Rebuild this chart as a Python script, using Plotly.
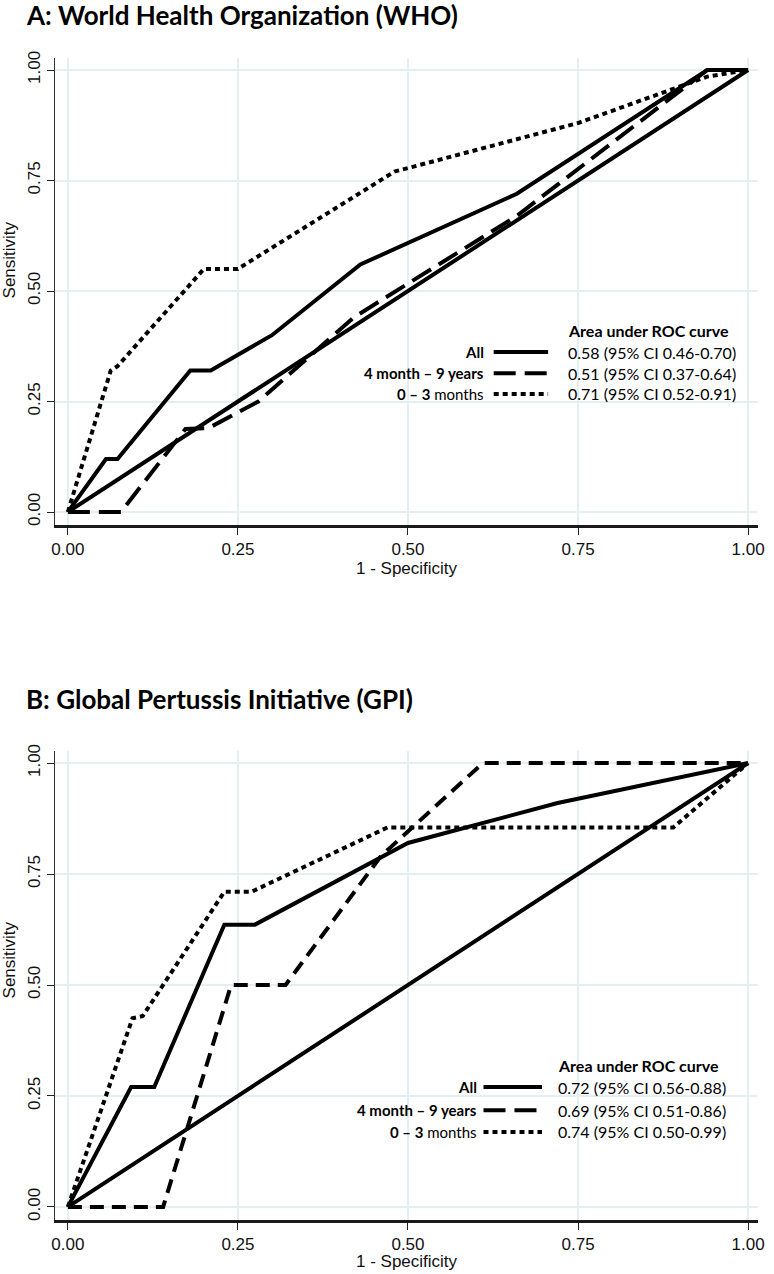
import plotly.graph_objects as go

# ROC points (1 - specificity, sensitivity)
who_all_x = [0, 0.056, 0.073, 0.18, 0.21, 0.30, 0.43, 0.66, 0.94, 1.0]
who_all_y = [0, 0.12, 0.12, 0.32, 0.32, 0.40, 0.56, 0.72, 1.0, 1.0]
who_older_x = [0, 0.078, 0.173, 0.207, 0.28, 0.42, 0.66, 0.94, 1.0]
who_older_y = [0, 0, 0.188, 0.19, 0.25, 0.44, 0.67, 1.0, 1.0]
who_infant_x = [0, 0.063, 0.073, 0.20, 0.25, 0.48, 0.75, 0.94, 1.0]
who_infant_y = [0, 0.32, 0.33, 0.55, 0.55, 0.77, 0.88, 0.985, 1.0]

gpi_all_x = [0, 0.093, 0.127, 0.23, 0.275, 0.50, 0.72, 1.0]
gpi_all_y = [0, 0.27, 0.27, 0.636, 0.636, 0.82, 0.91, 1.0]
gpi_older_x = [0, 0.14, 0.24, 0.32, 0.46, 0.61, 1.0]
gpi_older_y = [0, 0, 0.5, 0.5, 0.79, 1.0, 1.0]
gpi_infant_x = [0, 0.095, 0.11, 0.23, 0.27, 0.47, 0.89, 1.0]
gpi_infant_y = [0, 0.425, 0.43, 0.71, 0.71, 0.855, 0.855, 1.0]

ref_line = [0, 1]
ticks = [0, 0.25, 0.5, 0.75, 1.0]
tick_text = ["0.00", "0.25", "0.50", "0.75", "1.00"]

group_labels = ["<b>All</b>", "<b>4 month \u2013 9 years</b>", "<b>0 \u2013 3</b> months"]
who_auc = ["0.58 (95% CI 0.46-0.70)", "0.51 (95% CI 0.37-0.64)", "0.71 (95% CI 0.52-0.91)"]
gpi_auc = ["0.72 (95% CI 0.56-0.88)", "0.69 (95% CI 0.51-0.86)", "0.74 (95% CI 0.50-0.99)"]
titles = ["<b>A: World Health Organization (WHO)</b>", "<b>B: Global Pertussis Initiative (GPI)</b>"]

W, H = 774, 1274
ML, MR, MT, MB = 55, 9, 58, 54
PH = H - MT - MB
PW = W - ML - MR


def py(p):
    # pixel row -> paper y
    return (H - MB - p) / PH


def px(p):
    return (p - ML) / PW


TICKFONT = dict(family="Liberation Sans, Arial, sans-serif", size=17, color="#111")
LABFONT = dict(family="Liberation Sans, Arial, sans-serif", size=17, color="#111")
TXT = "Lato, Open Sans, sans-serif"
GRID = "#e4eff2"

fig = go.Figure()

panels = [
    ("x", "y", [who_all_x, who_older_x, who_infant_x], [who_all_y, who_older_y, who_infant_y], "22px,9px"),
    ("x2", "y2", [gpi_all_x, gpi_older_x, gpi_infant_x], [gpi_all_y, gpi_older_y, gpi_infant_y], "14px,8px"),
]
for xa, ya, xs, ys, dash in panels:
    fig.add_trace(go.Scatter(x=ref_line, y=ref_line, xaxis=xa, yaxis=ya, mode="lines",
                             line=dict(color="black", width=4), hoverinfo="skip"))
    styles = ["solid", dash, "5px,4px"]
    for xv, yv, st in zip(xs, ys, styles):
        fig.add_trace(go.Scatter(x=xv, y=yv, xaxis=xa, yaxis=ya, mode="lines",
                                 line=dict(color="black", width=4, dash=st), hoverinfo="skip"))

axis_common = dict(
    tickvals=ticks, ticktext=tick_text, showgrid=True, gridcolor=GRID, gridwidth=1.5,
    zeroline=False, ticks="outside", tickcolor="#222", tickfont=TICKFONT,
)
xr = [-13 / 687, (765 - 68) / 687]
yr = [-13 / 442, (467 - 13) / 442]
fig.update_layout(
    width=W, height=H, showlegend=False,
    plot_bgcolor="white", paper_bgcolor="white",
    margin=dict(l=ML, r=MR, t=MT, b=MB, pad=0),
    xaxis=dict(axis_common, domain=[0, 1], anchor="y", range=xr, showline=True,
               linecolor="#1a1a1a", linewidth=2.5, ticklen=7, tickwidth=1.2),
    yaxis=dict(axis_common, domain=[py(525), 1], anchor="x", range=yr, showline=True,
               linecolor="#333", linewidth=1.3, ticklen=7, tickwidth=1.2, tickangle=-90),
    xaxis2=dict(axis_common, domain=[0, 1], anchor="y2", range=xr, showline=True,
                linecolor="#1a1a1a", linewidth=2.5, ticklen=7, tickwidth=1.2),
    yaxis2=dict(axis_common, domain=[0, py(751)], anchor="x2", range=yr, showline=True,
                linecolor="#333", linewidth=1.3, ticklen=7, tickwidth=1.2, tickangle=-90),
)

ann = []
shapes = []
# titles and axis titles
for t, yc in zip(titles, [15, 699]):
    ann.append(dict(text=t, xref="paper", yref="paper", x=px(24), y=py(yc), xanchor="left",
                    yanchor="middle", showarrow=False, font=dict(family=TXT, size=26, color="black")))
for yc in [260, 960]:
    ann.append(dict(text="Sensitivity", xref="paper", yref="paper", x=px(9), y=py(yc), textangle=-90,
                    xanchor="center", yanchor="middle", showarrow=False, font=LABFONT))
for yc in [568, 1261]:
    ann.append(dict(text="1 - Specificity", xref="paper", yref="paper", x=px(411), y=py(yc),
                    xanchor="center", yanchor="middle", showarrow=False, font=LABFONT))

# AUC legends drawn in data units of each panel
legend_spec = [
    ("x", "y", who_auc, 0.614, 0.626, 0.706, 0.732, [0.41, 0.362, 0.314, 0.267], "22px,9px"),
    ("x2", "y2", gpi_auc, 0.604, 0.611, 0.697, 0.718, [0.318, 0.27, 0.218, 0.169], "22px,9px"),
]
for xa, ya, aucs, lab_r, k0, k1, val_l, rows, dash in legend_spec:
    ann.append(dict(text="<b>Area under ROC curve</b>", xref=xa, yref=ya, x=val_l, y=rows[0],
                    xanchor="left", yanchor="middle", showarrow=False,
                    font=dict(family=TXT, size=16, color="black")))
    for lab, auc, yy, st in zip(group_labels, aucs, rows[1:], ["solid", dash, "5px,4px"]):
        ann.append(dict(text=lab, xref=xa, yref=ya, x=lab_r, y=yy, xanchor="right", yanchor="middle",
                        showarrow=False, font=dict(family=TXT, size=15, color="black")))
        ann.append(dict(text=auc, xref=xa, yref=ya, x=val_l, y=yy, xanchor="left", yanchor="middle",
                        showarrow=False, font=dict(family=TXT, size=16, color="black")))
        shapes.append(dict(type="line", xref=xa, yref=ya, x0=k0, x1=k1, y0=yy, y1=yy,
                           line=dict(color="black", width=4, dash=st)))

fig.update_layout(annotations=ann, shapes=shapes)
# the page body has a default 8px margin; drop it so the figure fills the window
fig.write_html("out.html", config={"displayModeBar": False},
               post_script="document.body.style.margin='0px';")
